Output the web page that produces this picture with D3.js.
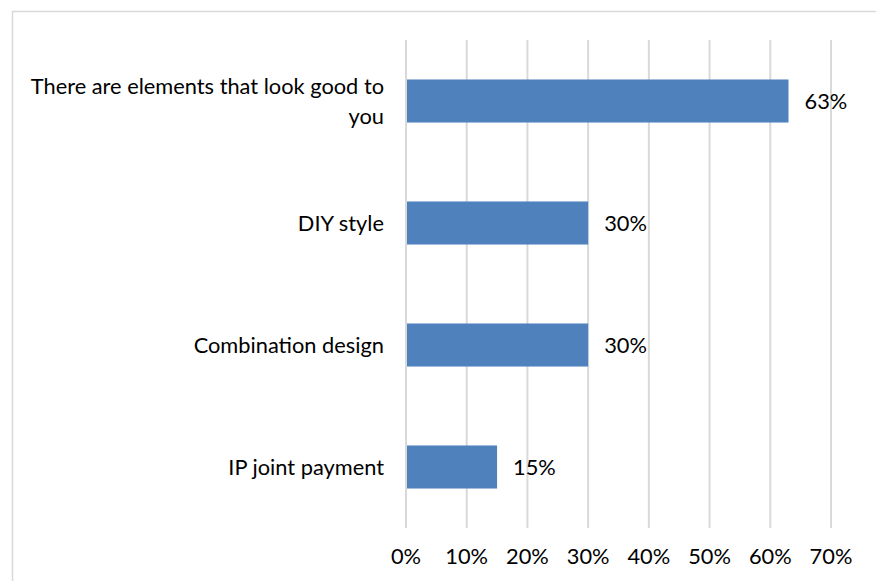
<!DOCTYPE html>
<html>
<head>
<meta charset="utf-8">
<script src="https://cdn.jsdelivr.net/npm/d3@7"></script>
<style>
  body { margin: 0; background: #fff; }
  text { font-family: Lato, "Open Sans", sans-serif; fill: #000; }
</style>
</head>
<body>
<div id="chart"></div>
<script>
var categories = ["There are elements that look good to you", "DIY style", "Combination design", "IP joint payment"];
var labelLines = [["There are elements that look good to", "you"], ["DIY style"], ["Combination design"], ["IP joint payment"]];
var values = [63, 30, 30, 15];
var ticks = [0, 10, 20, 30, 40, 50, 60, 70];

var width = 876, height = 581;
var fontSize = "21.8px";

var svg = d3.select("#chart").append("svg")
  .attr("width", width)
  .attr("height", height);

// chart frame
svg.append("rect")
  .attr("x", 12.5).attr("y", 11.5)
  .attr("width", 900).attr("height", 600)
  .attr("fill", "none")
  .attr("stroke", "#d9d9d9")
  .attr("stroke-width", 1.5);

var x = d3.scaleLinear().domain([0, 70]).range([406, 831]);
var y = d3.scaleBand().domain(categories).range([40, 528]).paddingInner(0.647).paddingOuter(0.3235);

// gridlines
svg.selectAll("line.grid")
  .data(ticks)
  .enter().append("line")
  .attr("class", "grid")
  .attr("x1", function(d) { return x(d); })
  .attr("x2", function(d) { return x(d); })
  .attr("y1", 40).attr("y2", 528)
  .attr("stroke", "#d9d9d9")
  .attr("stroke-width", 2);

// bars
svg.selectAll("rect.bar")
  .data(categories)
  .enter().append("rect")
  .attr("class", "bar")
  .attr("x", x(0) + 1)
  .attr("y", function(d) { return y(d); })
  .attr("width", function(d, i) { return x(values[i]) - x(0) - 1; })
  .attr("height", y.bandwidth())
  .attr("fill", "#4f81bd");

// value labels
svg.selectAll("text.val")
  .data(categories)
  .enter().append("text")
  .attr("class", "val")
  .attr("x", function(d, i) { return x(values[i]) + 16; })
  .attr("y", function(d) { return y(d) + y.bandwidth() / 2; })
  .attr("dy", "0.35em")
  .style("font-size", fontSize)
  .text(function(d, i) { return values[i] + "%"; });

// category labels
var cat = svg.selectAll("text.cat")
  .data(categories)
  .enter().append("text")
  .attr("class", "cat")
  .attr("text-anchor", "end")
  .style("font-size", fontSize)
  .attr("y", function(d, i) {
    var c = y(d) + y.bandwidth() / 2;
    return c - (labelLines[i].length - 1) * 15;
  });

cat.selectAll("tspan")
  .data(function(d, i) { return labelLines[i]; })
  .enter().append("tspan")
  .attr("x", 384)
  .attr("dy", function(d, j) { return j === 0 ? "0.35em" : "30px"; })
  .text(function(d) { return d; });

// x tick labels
svg.selectAll("text.tick")
  .data(ticks)
  .enter().append("text")
  .attr("class", "tick")
  .attr("x", function(d) { return x(d); })
  .attr("y", 556)
  .attr("dy", "0.35em")
  .attr("text-anchor", "middle")
  .style("font-size", fontSize)
  .text(function(d) { return d + "%"; });
</script>
</body>
</html>
